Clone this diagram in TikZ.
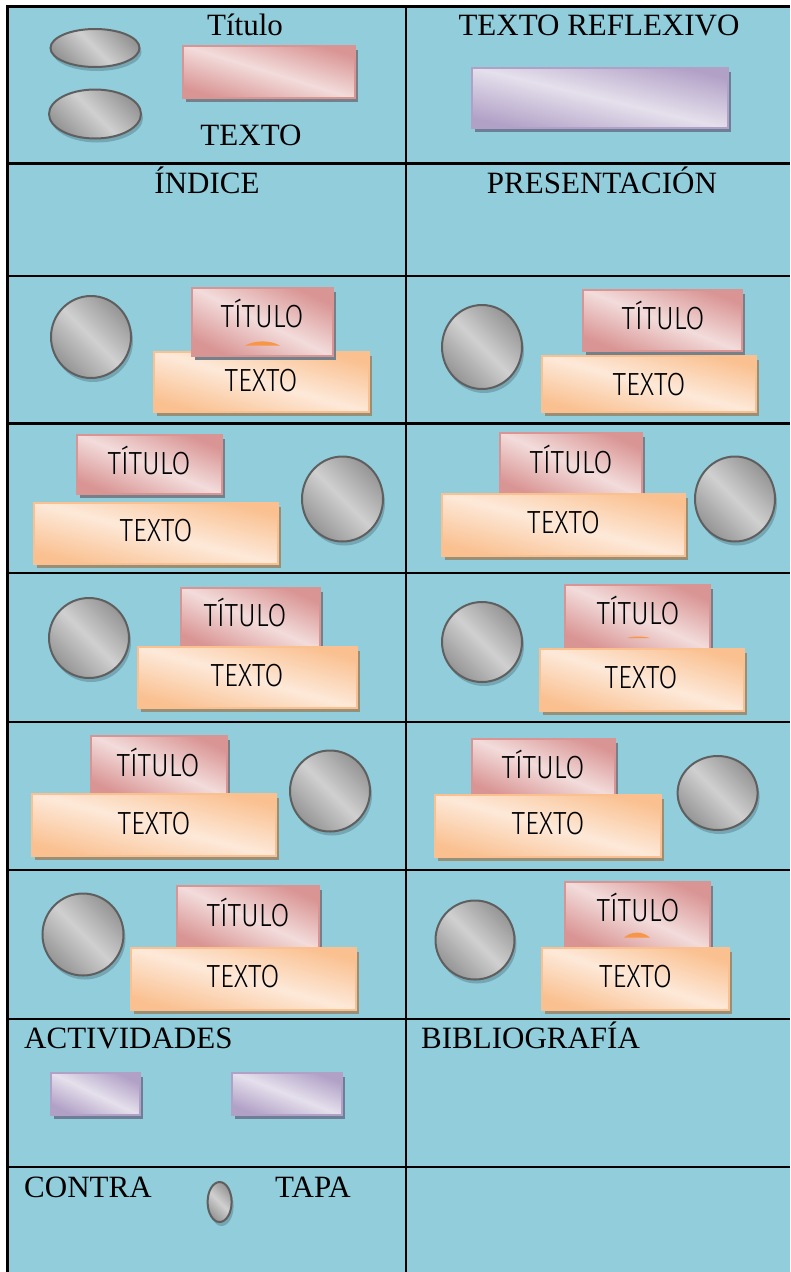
\documentclass[tikz,border=0pt]{standalone}
\usepackage{fontspec}
\setmainfont{Liberation Serif}
\newfontfamily\twfont[FakeStretch=0.85]{Fira Sans Light}
\usetikzlibrary{shapes.geometric,shadows}
\definecolor{bgblue}{HTML}{92CDDC}
\definecolor{gdark}{HTML}{959595}
\definecolor{glight}{HTML}{D0D0D0}
\definecolor{gborder}{HTML}{5F5F5F}
\definecolor{cshadow}{HTML}{74A6B4}
\definecolor{pinkdark}{HTML}{D99594}
\definecolor{pinklight}{HTML}{F2DCDB}
\definecolor{pshadow}{HTML}{74808A}
\definecolor{orangedark}{HTML}{FAC090}
\definecolor{orangelight}{HTML}{FDE9D9}
\definecolor{oshadow}{HTML}{978F78}
\definecolor{purpledark}{HTML}{B2A1C7}
\definecolor{purplelight}{HTML}{E5E0EC}
\definecolor{ushadow}{HTML}{6C7F97}
\definecolor{markc}{HTML}{F79646}
\tikzset{
  tl/.style={line width=2.6pt, black},
  gshape/.style={ellipse, inner sep=0pt, draw=gborder, line width=2pt,
    top color=gdark, bottom color=gdark, middle color=glight, shading angle=-45,
    drop shadow={shadow xshift=2pt, shadow yshift=-4pt, fill=cshadow, opacity=1}},
  pinkbox/.style={rectangle, inner sep=0pt, draw=pinkdark, line width=2pt,
    top color=pinkdark, bottom color=pinkdark, middle color=pinklight,
    drop shadow={shadow xshift=3pt, shadow yshift=-4pt, fill=pshadow, opacity=1}},
  orangebox/.style={rectangle, inner sep=0pt, draw=orangedark, line width=2pt,
    top color=orangedark, bottom color=orangedark, middle color=orangelight,
    drop shadow={shadow xshift=3pt, shadow yshift=-4pt, fill=oshadow, opacity=1}},
  purplebox/.style={rectangle, inner sep=0pt, draw=purpledark, line width=2pt,
    top color=purpledark, bottom color=purpledark, middle color=purplelight,
    drop shadow={shadow xshift=3pt, shadow yshift=-4pt, fill=ushadow, opacity=1}},
  serif/.style={inner sep=0pt, font=\fontsize{31}{36}\selectfont},
  sanslbl/.style={inner sep=0pt, anchor=base, font=\twfont\fontsize{32}{38}\selectfont, text=black},
}
% style, name, x1, y1, x2, y2
\newcommand\shp[6]{\pgfmathsetmacro\shang{-atan((#6-#4)/(#5-#3))}%
  \node[#1, shading angle=\shang, minimum width={(#5-#3-2)*1pt}, minimum height={(#6-#4-2)*1pt}] (#2) at ({(#3+#5)/2},{(#4+#6)/2}) {};}
% name, cx, cy, w, h
\newcommand\ovl[5]{\node[gshape, minimum width={(#4-2)*1pt}, minimum height={(#5-2)*1pt}] (#1) at (#2,#3) {};}
\newcommand\mrk[4]{\fill[markc] (#1,#4) .. controls ({#1+(#2-#1)*0.3},#3) and ({#1+(#2-#1)*0.7},#3) .. (#2,#4) -- cycle;}
\begin{document}
\begin{tikzpicture}[x=1pt,y=-1pt]
\useasboundingbox (0,0) rectangle (790,1272);
\fill[white] (0,0) rectangle (790,1272);
\fill[bgblue] (7,6) rectangle (790,1272);
% grid
\draw[tl] (7.5,5.2) -- (7.5,1272);
\draw[tl] (406,5.2) -- (406,1272);
\foreach \yy in {6.5,163.5,276,423.5,573,722,870,1019,1167}{\draw[tl] (6.2,\yy) -- (790,\yy);}
% row 1
\ovl{e1a}{95}{48}{91}{40}
\ovl{e1b}{95}{114}{94}{51}
\shp{pinkbox}{p1}{182}{45}{356}{99}
\node[serif, anchor=base] (t1) at (245,35) {Título};
\node[serif, anchor=base] (x1) at (251,145) {TEXTO};
\node[serif, anchor=base] (tr) at (599,35) {TEXTO REFLEXIVO};
\shp{purplebox}{u1}{471}{67}{729}{129}
% row 2
\node[serif, anchor=base] (ind) at (207,193) {ÍNDICE};
\node[serif, anchor=base] (pre) at (602,193) {PRESENTACIÓN};
% row 3 left
\ovl{c3l}{91}{337}{82}{84}
\shp{orangebox}{o3l}{153}{351}{370}{413}
\shp{pinkbox}{p3l}{191}{287}{334}{357}
\mrk{245}{280}{340}{345.5}
\node[sanslbl] (pt3l) at (262,327) {TÍTULO};
\node[sanslbl] (ot3l) at (261,391.5) {TEXTO};
% row 3 right
\ovl{c3r}{482}{347}{82}{86}
\shp{pinkbox}{p3r}{582}{289}{743}{352}
\shp{orangebox}{o3r}{541}{355}{757}{413}
\node[sanslbl] (pt3r) at (663,329.5) {TÍTULO};
\node[sanslbl] (ot3r) at (649,395.7) {TEXTO};
% row 4 left
\shp{pinkbox}{p4l}{76}{434}{223}{495}
\shp{orangebox}{o4l}{33}{502}{279}{565}
\ovl{c4l}{342.5}{499}{83}{87}
\node[sanslbl] (pt4l) at (149,474.3) {TÍTULO};
\node[sanslbl] (ot4l) at (156,541.8) {TEXTO};
% row 4 right
\shp{pinkbox}{p4r}{499}{432}{643}{497}
\shp{orangebox}{o4r}{441}{493}{686}{557}
\ovl{c4r}{735}{499}{82}{87}
\node[sanslbl] (pt4r) at (571,473) {TÍTULO};
\node[sanslbl] (ot4r) at (563.5,533.5) {TEXTO};
% row 5 left
\ovl{c5l}{89}{638}{82}{82}
\shp{pinkbox}{p5l}{180}{587}{321}{650}
\shp{orangebox}{o5l}{136.5}{646}{358}{709}
\node[sanslbl] (pt5l) at (245,626.8) {TÍTULO};
\node[sanslbl] (ot5l) at (247,686.8) {TEXTO};
% row 5 right
\ovl{c5r}{482}{642}{82}{82}
\shp{pinkbox}{p5r}{564}{584}{711}{650}
\mrk{627}{650}{636}{638}
\shp{orangebox}{o5r}{539}{648}{745}{712}
\node[sanslbl] (pt5r) at (638,624.3) {TÍTULO};
\node[sanslbl] (ot5r) at (641,688) {TEXTO};
% row 6 left
\shp{pinkbox}{p6l}{90}{735}{228}{797}
\shp{orangebox}{o6l}{31}{793}{277}{857}
\ovl{c6l}{330}{791}{82}{83}
\node[sanslbl] (pt6l) at (158,776) {TÍTULO};
\node[sanslbl] (ot6l) at (154,834.8) {TEXTO};
% row 6 right
\shp{pinkbox}{p6r}{471}{738}{616}{798}
\shp{orangebox}{o6r}{434}{794}{661.5}{858}
\ovl{c6r}{717.6}{793}{82}{76}
\node[sanslbl] (pt6r) at (543,778.5) {TÍTULO};
\node[sanslbl] (ot6r) at (548,834.8) {TEXTO};
% row 7 left
\ovl{c7l}{83}{934.5}{83}{84}
\shp{pinkbox}{p7l}{176}{885}{320}{950}
\shp{orangebox}{o7l}{129.5}{947}{357}{1011}
\node[sanslbl] (pt7l) at (248,926.3) {TÍTULO};
\node[sanslbl] (ot7l) at (243,987.7) {TEXTO};
% row 7 right
\ovl{c7r}{475}{940}{81}{81}
\shp{pinkbox}{p7r}{564}{881}{711}{950}
\mrk{624}{650}{931}{937.5}
\shp{orangebox}{o7r}{540.6}{947}{729.5}{1011}
\node[sanslbl] (pt7r) at (638,921) {TÍTULO};
\node[sanslbl] (ot7r) at (635.5,987.7) {TEXTO};
% row 8
\node[serif, anchor=base west] (act) at (24,1048) {ACTIVIDADES};
\node[serif, anchor=base west] (bib) at (421,1048) {BIBLIOGRAFÍA};
\shp{purplebox}{u8a}{50}{1072}{141}{1116}
\shp{purplebox}{u8b}{231}{1072}{343}{1116}
% row 9
\node[serif, anchor=base west] (con) at (24,1197) {CONTRA};
\node[serif, anchor=base west] (tap) at (275,1197) {TAPA};
\ovl{c9}{219.6}{1202}{26}{42}
\end{tikzpicture}
\end{document}
